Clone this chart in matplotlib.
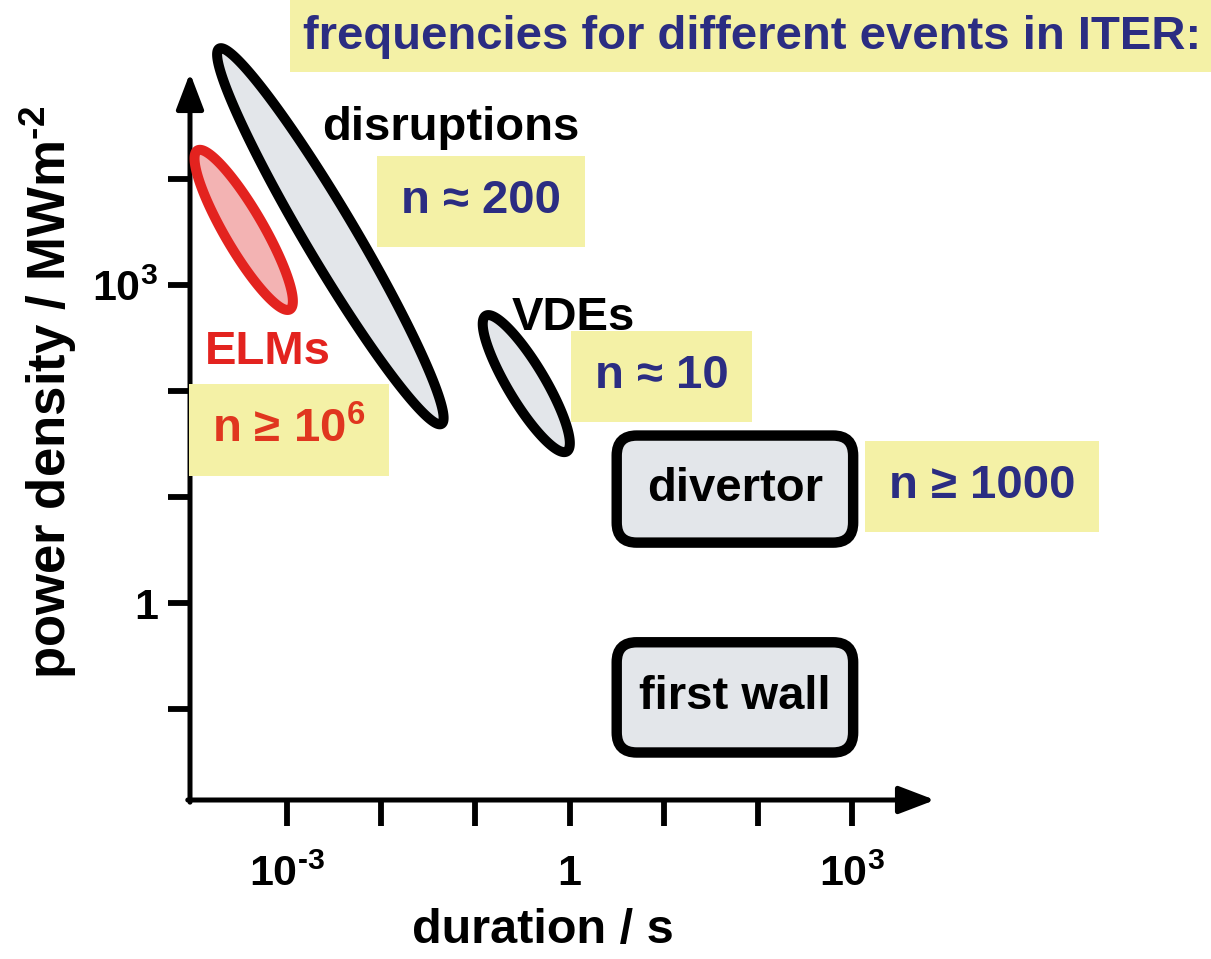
import numpy as np
import matplotlib
matplotlib.use("Agg")
from matplotlib import pyplot as plt
from matplotlib.patches import FancyBboxPatch, Rectangle
from matplotlib.transforms import IdentityTransform

plt.rcParams['font.family'] = ['Liberation Sans', 'DejaVu Sans']
plt.rcParams['font.weight'] = 'bold'
plt.rcParams['axes.labelweight'] = 'bold'
plt.rcParams['mathtext.fontset'] = 'custom'
plt.rcParams['mathtext.rm'] = 'Liberation Sans:bold'
plt.rcParams['mathtext.bf'] = 'Liberation Sans:bold'
plt.rcParams['mathtext.default'] = 'rm'

# ---- data (log10 of duration [s] and power density [MW m^-2]) ----
event_names = ['ELMs', 'disruptions', 'VDEs']
event_log_duration = [-3.46, -2.54, -0.46]
event_log_power = [3.52, 3.46, 2.07]
# half-axes of each ellipse, in decades (duration, power)
event_major = [(0.49, -0.75), (1.18, -1.77), (0.43, -0.64)]
event_minor = [(0.18, 0.09), (0.23, 0.12), (0.17, 0.09)]
event_edge = ['#e3231f', 'black', 'black']
event_fill = ['#f3b3b3', '#e3e6ea', '#e3e6ea']
event_label_color = ['#e3231f', 'black', 'black']
event_label_log_pos = [(-3.2, 2.37), (-1.26, 4.48), (0.04, 2.69)]

component_names = ['divertor', 'first wall']
component_duration = [(10**0.50, 10**3.01), (10**0.50, 10**3.01)]
component_power = [(10**0.57, 10**1.58), (10**-1.41, 10**-0.37)]

frequency_labels = ['n ≈ 200', 'n ≥ 10$^{6}$', 'n ≈ 10', 'n ≥ 1000']
frequency_log_pos = [(-0.94, 3.79), (-2.98, 1.63), (0.98, 2.14), (4.38, 1.10)]
frequency_color = ['#2b2d82', '#e0361f', '#2b2d82', '#2b2d82']

x_ticks = [1e-3, 1e-2, 1e-1, 1, 1e1, 1e2, 1e3]
x_tick_labels = [r'10$^{\text{-}3}$', '', '', '1', '', '', r'10$^{3}$']
y_ticks = [1e-1, 1, 1e1, 1e2, 1e3, 1e4]
y_tick_labels = ['', '1', '', '', r'10$^{3}$', '']

YELLOW = '#f4f1a6'
BLUE = '#2b2d82'


def main():
    fig = plt.figure(figsize=(12.11, 9.59), dpi=100)
    # axes box: x from pixel 190 to 935, y from 800 up to 73
    ax = fig.add_axes([190 / 1211, 159 / 959, 745 / 1211, 727 / 959])
    ax.set_xscale('log')
    ax.set_yscale('log')
    ax.set_xlim(10**-4.03, 10**3.879)
    ax.set_ylim(10**-1.858, 10**5.0)
    ax.patch.set_alpha(0)

    for s in ['top', 'right', 'left', 'bottom']:
        ax.spines[s].set_visible(False)
    arrow = dict(arrowstyle='-|>,head_length=1.1,head_width=0.42', lw=3.6, color='black',
                 shrinkA=0, shrinkB=0, mutation_scale=20)
    ax.annotate('', xy=(1, 0), xytext=(-0.003, 0), xycoords='axes fraction', arrowprops=arrow)
    ax.annotate('', xy=(0, 1), xytext=(0, -0.003), xycoords='axes fraction', arrowprops=arrow)

    ax.set_xticks(x_ticks)
    ax.set_xticklabels(x_tick_labels)
    ax.set_yticks(y_ticks)
    ax.set_yticklabels(y_tick_labels)
    ax.minorticks_off()
    ax.tick_params(axis='x', direction='out', length=19, width=4.2, pad=20, labelsize=31)
    ax.tick_params(axis='y', direction='out', length=16, width=4.2, pad=7, labelsize=31)

    ax.set_xlabel('duration / s', fontsize=35, va='center')
    ax.xaxis.set_label_coords(0.474, -0.179)
    ax.set_ylabel(r'power density / MWm$^{\text{-}2}$', fontsize=38, va='center')
    ax.yaxis.set_label_coords(-0.19, 0.561)

    # events as ellipses in log-log space
    t = np.linspace(0, 2 * np.pi, 300)
    for i in [1, 0, 2]:
        lx = event_log_duration[i] + event_major[i][0] * np.cos(t) + event_minor[i][0] * np.sin(t)
        ly = event_log_power[i] + event_major[i][1] * np.cos(t) + event_minor[i][1] * np.sin(t)
        ax.fill(10**lx, 10**ly, facecolor=event_fill[i], edgecolor=event_edge[i], lw=7.2,
                clip_on=False, zorder=3)

    for name, (lx, ly), c in zip(event_names, event_label_log_pos, event_label_color):
        ax.text(10**lx, 10**ly, name, fontsize=34, color=c, ha='center', va='center',
                zorder=4, clip_on=False)

    # components as rounded boxes (drawn in pixel space so corners stay round)
    for name, dur, pw in zip(component_names, component_duration, component_power):
        (x0, y0), (x1, y1) = ax.transData.transform([(dur[0], pw[0]), (dur[1], pw[1])])
        box = FancyBboxPatch((x0, y0), x1 - x0, y1 - y0, boxstyle='round,pad=0,rounding_size=20',
                             transform=IdentityTransform(), facecolor='#e3e6ea',
                             edgecolor='black', lw=7.5, clip_on=False, zorder=3)
        ax.add_artist(box)
        ax.text(np.sqrt(dur[0] * dur[1]), np.sqrt(pw[0] * pw[1]), name, fontsize=34,
                ha='center', va='center', zorder=4)

    for lab, (lx, ly), c in zip(frequency_labels, frequency_log_pos, frequency_color):
        ax.text(10**lx, 10**ly, lab, fontsize=34, color=c, ha='center', va='center',
                zorder=4, clip_on=False,
                bbox=dict(boxstyle='square,pad=0.5', facecolor=YELLOW, edgecolor='none'))

    # title banner
    fig.patches.append(Rectangle((290 / 1211, 887 / 959), 1, 72 / 959, transform=fig.transFigure,
                                 facecolor=YELLOW, edgecolor='none', zorder=0))
    fig.text(752 / 1211, 922 / 959, 'frequencies for different events in ITER:', fontsize=34,
             color=BLUE, ha='center', va='center')

    fig.savefig('out.png', dpi=100)


if __name__ == '__main__':
    main()
